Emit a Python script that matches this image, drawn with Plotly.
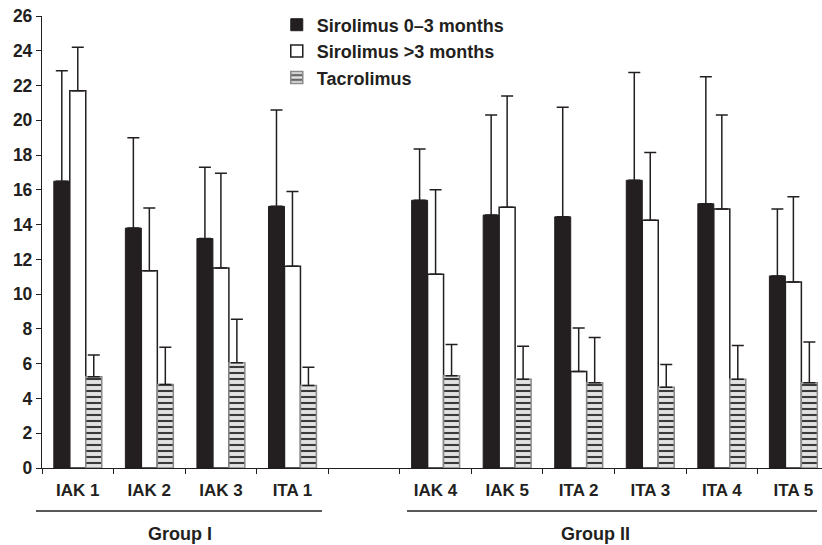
import plotly.graph_objects as go

# ---- data ----
categories = ["IAK 1", "IAK 2", "IAK 3", "ITA 1", " ", "IAK 4", "IAK 5", "ITA 2", "ITA 3", "ITA 4", "ITA 5"]

siro_early = [16.5, 13.8, 13.2, 15.05, None, 15.4, 14.55, 14.45, 16.55, 15.2, 11.05]
siro_early_err = [6.35, 5.2, 4.1, 5.55, None, 2.95, 5.75, 6.3, 6.2, 7.3, 3.85]

siro_late = [21.7, 11.35, 11.5, 11.6, None, 11.15, 15.0, 5.55, 14.25, 14.9, 10.7]
siro_late_err = [2.5, 3.6, 5.45, 4.3, None, 4.85, 6.4, 2.5, 3.9, 5.4, 4.9]

tacro = [5.25, 4.8, 6.05, 4.75, None, 5.3, 5.1, 4.9, 4.65, 5.1, 4.9]
tacro_err = [1.25, 2.15, 2.5, 1.05, None, 1.8, 1.9, 2.6, 1.3, 1.95, 2.35]

series_names = ["Sirolimus 0\u20133 months", "Sirolimus >3 months", "Tacrolimus"]
y_ticks = list(range(0, 27, 2))
groups = ["Group I", "Group II"]

INK = "#231f20"
FONT = "Liberation Sans, Arial, Helvetica, sans-serif"


def err(vals):
    return dict(type="data", symmetric=False, array=vals,
                arrayminus=[0 if v is not None else None for v in vals],
                color=INK, thickness=1.5, width=6)


fig = go.Figure()
fig.add_trace(go.Bar(
    x=categories, y=siro_early, name=series_names[0], legendgroup="a",
    marker=dict(color=INK, line=dict(color=INK, width=1)),
    error_y=err(siro_early_err)))
fig.add_trace(go.Bar(
    x=categories, y=siro_late, name=series_names[1], legendgroup="b",
    marker=dict(color="white", line=dict(color=INK, width=1.5)),
    error_y=err(siro_late_err)))
fig.add_trace(go.Bar(
    x=categories, y=tacro, name=series_names[2], legendgroup="c",
    marker=dict(color="#dcdcdc", line=dict(color="#8a8a8a", width=1.5),
                pattern=dict(shape="-", fgcolor="#3a3a3a", bgcolor="#e2e2e2",
                             size=6, solidity=0.35, fillmode="replace")),
    error_y=err(tacro_err)))

fig.update_layout(
    width=822, height=545,
    margin=dict(l=42, r=0, t=16, b=77, autoexpand=False),
    paper_bgcolor="white", plot_bgcolor="white",
    barmode="group", bargap=0.33, bargroupgap=0,
    font=dict(family=FONT, color=INK, size=17, weight="bold"),
    legend=dict(x=0.301, y=1.021, xanchor="left", yanchor="top",
                bgcolor="rgba(0,0,0,0)", tracegroupgap=0,
                font=dict(family=FONT, size=18, color=INK, weight="bold")),
    showlegend=True,
)

fig.update_xaxes(
    type="category", categoryorder="array", categoryarray=categories,
    range=[-0.5, 10.40], showline=True, linecolor=INK, linewidth=1.3,
    ticks="outside", tickson="boundaries", ticklen=5, tickcolor=INK, tickwidth=1.3,
    tickfont=dict(family=FONT, size=17, color=INK, weight="bold"),
    ticklabelstandoff=6, showgrid=False, zeroline=False, automargin=False,
)
fig.update_yaxes(
    range=[0, 26], tickvals=y_ticks, showline=True, linecolor=INK, linewidth=1.3,
    ticks="outside", ticklen=5, tickcolor=INK, tickwidth=1.3,
    tickfont=dict(family=FONT, size=17.5, color=INK, weight="bold"),
    showgrid=False, zeroline=False, automargin=False,
)

# group brackets
for x0, x1 in [(-0.0077, 0.359), (0.468, 0.9936)]:
    fig.add_shape(type="line", xref="paper", yref="paper", x0=x0, x1=x1,
                  y0=-0.0951, y1=-0.0951, line=dict(color=INK, width=1.3))
for label, xc in zip(groups, [0.177, 0.709]):
    fig.add_annotation(text=label, xref="paper", yref="paper", x=xc, y=-0.1460,
                       xanchor="center", yanchor="middle", showarrow=False,
                       font=dict(family=FONT, size=18, color=INK, weight="bold"))

fig.write_html("out.html", config={"displayModeBar": False},
               post_script="document.body.style.margin='0';")
